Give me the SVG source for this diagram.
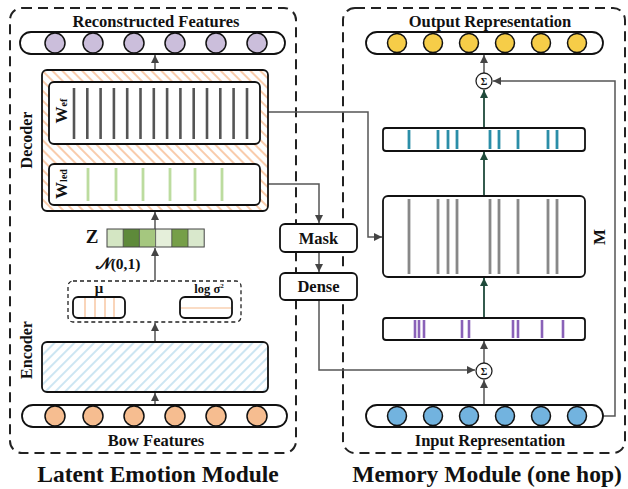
<svg xmlns="http://www.w3.org/2000/svg" width="628" height="489" viewBox="0 0 628 489">
<style>
text{font-family:"Liberation Serif","Times New Roman",serif;font-weight:bold;fill:#111}
.title{font-size:16.5px;text-anchor:middle}
.big{font-size:23.5px;text-anchor:middle}
.dash{fill:none;stroke:#222;stroke-width:2;stroke-dasharray:10 6}
.pill{fill:#fff;stroke:#111;stroke-width:1.8}
.box{fill:#fff;stroke:#111;stroke-width:1.8}
.con{fill:none;stroke:#555;stroke-width:1.5}
.grn{fill:none;stroke:#1f4a3a;stroke-width:1.8}
.gbar{stroke:#555;stroke-width:2.6}
.lbar{stroke:#bcdc9f;stroke-width:2.8}
.mbar{stroke:#888;stroke-width:2.8}
.tbar{stroke:#2b8ea8;stroke-width:2.8}
.pbar{stroke:#8a62b8;stroke-width:2.6}
.obar{stroke:#f6b98c;stroke-width:1.2}
.cP{fill:#cbbedb;stroke:#111;stroke-width:1.5}
.cO{fill:#f6bd90;stroke:#111;stroke-width:1.5}
.cY{fill:#f6cd48;stroke:#111;stroke-width:1.5}
.cB{fill:#72b3df;stroke:#111;stroke-width:1.5}
.sig{fill:#fff;stroke:#222;stroke-width:1.3}
</style>
<defs>
<marker id="ah" markerUnits="userSpaceOnUse" markerWidth="10" markerHeight="10" refX="8" refY="4" orient="auto"><path d="M0,0 L8,4 L0,8 z" fill="#444"/></marker>
<marker id="ag" markerUnits="userSpaceOnUse" markerWidth="10" markerHeight="10" refX="8" refY="4" orient="auto"><path d="M0,0 L8,4 L0,8 z" fill="#1f4a3a"/></marker>
<pattern id="hatchO" patternUnits="userSpaceOnUse" width="7" height="7" patternTransform="rotate(-45)"><rect width="7" height="7" fill="#fff"/><line x1="1" y1="0" x2="1" y2="7" stroke="#f6b17f" stroke-width="1.3"/></pattern>
<pattern id="hatchB" patternUnits="userSpaceOnUse" width="7" height="7" patternTransform="rotate(45)"><rect width="7" height="7" fill="#fff"/><line x1="1" y1="0" x2="1" y2="7" stroke="#abd5ea" stroke-width="1.2"/></pattern>
</defs>

<g id="latent-module">
<rect class="dash" x="10" y="8" width="286" height="445" rx="12"/>
<text class="big" x="158" y="482">Latent Emotion Module</text>
</g>
<g id="memory-module">
<rect class="dash" x="343" y="8" width="282" height="445" rx="12"/>
<text class="big" x="487" y="482">Memory Module (one hop)</text>
</g>

<g id="connectors">
<path class="con" d="M155,405 V393" marker-end="url(#ah)"/>
<path class="con" d="M155,342 V323" marker-end="url(#ah)"/>
<path class="con" d="M155,281 V248" marker-end="url(#ah)"/>
<path class="con" d="M155,229 V212" marker-end="url(#ah)"/>
<path class="con" d="M155,163 V145" marker-end="url(#ah)"/>
<path class="con" d="M155,70 V55" marker-end="url(#ah)"/>
<path class="con" d="M260,112 H368 V237 H382" marker-end="url(#ah)"/>
<path class="con" d="M260,184 H319 V223" marker-end="url(#ah)"/>
<path class="con" d="M319,252 V272" marker-end="url(#ah)"/>
<path class="con" d="M319,300 V370 H475" marker-end="url(#ah)"/>
<path class="con" d="M484,405 V380" marker-end="url(#ah)"/>
<path class="con" d="M484,363 V341" marker-end="url(#ah)"/>
<path class="grn" d="M484,318 V278" marker-end="url(#ag)"/>
<path class="grn" d="M484,196 V152" marker-end="url(#ag)"/>
<path class="grn" d="M484,128 V90" marker-end="url(#ag)"/>
<path class="con" d="M484,73 V55" marker-end="url(#ah)"/>
<path class="con" d="M603,416 H615 V81 H493" marker-end="url(#ah)"/>
</g>

<g id="reconstructed-features">
<text class="title" x="156" y="27">Reconstructed Features</text>
<rect class="pill" x="20" y="32" width="265" height="22" rx="11"/>
<circle class="cP" cx="55" cy="43" r="10"/><circle class="cP" cx="93" cy="43" r="10"/><circle class="cP" cx="134" cy="43" r="10"/><circle class="cP" cx="175" cy="43" r="10"/><circle class="cP" cx="216" cy="43" r="10"/><circle class="cP" cx="257" cy="43" r="10"/>
</g>

<g id="decoder">
<rect x="42" y="70" width="226" height="141" rx="5" fill="url(#hatchO)" stroke="#111" stroke-width="1.8"/>
<text x="28" y="140" font-size="16" text-anchor="middle" transform="rotate(-90 28 140)" dominant-baseline="middle">Decoder</text>
</g>

<g id="w-ef">
<rect class="box" x="49" y="82" width="211" height="62" rx="5"/>
<g class="gbar">
<line x1="74" y1="88" x2="74" y2="139"/><line x1="87.3" y1="88" x2="87.3" y2="139"/><line x1="100.6" y1="88" x2="100.6" y2="139"/><line x1="113.9" y1="88" x2="113.9" y2="139"/><line x1="127.2" y1="88" x2="127.2" y2="139"/><line x1="140.5" y1="88" x2="140.5" y2="139"/><line x1="153.8" y1="88" x2="153.8" y2="139"/><line x1="167.1" y1="88" x2="167.1" y2="139"/><line x1="180.4" y1="88" x2="180.4" y2="139"/><line x1="193.7" y1="88" x2="193.7" y2="139"/><line x1="207" y1="88" x2="207" y2="139"/><line x1="220.3" y1="88" x2="220.3" y2="139"/><line x1="233.6" y1="88" x2="233.6" y2="139"/><line x1="247" y1="88" x2="247" y2="139"/>
</g>
<text x="67" y="111" font-size="17" text-anchor="middle" transform="rotate(-90 67 111)">W<tspan font-size="10">ef</tspan></text>
</g>

<g id="w-led">
<rect class="box" x="49" y="164" width="211" height="41" rx="5"/>
<g class="lbar">
<line x1="88" y1="168" x2="88" y2="201"/><line x1="116" y1="168" x2="116" y2="201"/><line x1="143" y1="168" x2="143" y2="201"/><line x1="170" y1="168" x2="170" y2="201"/><line x1="195" y1="168" x2="195" y2="201"/><line x1="222" y1="168" x2="222" y2="201"/>
</g>
<text x="67" y="184" font-size="17" text-anchor="middle" transform="rotate(-90 67 184)">W<tspan font-size="10">led</tspan></text>
</g>

<g id="z">
<text x="92" y="243" font-size="19" text-anchor="middle">Z</text>
<rect x="107" y="229" width="16.2" height="18" fill="#d4e6c3"/>
<rect x="123.2" y="229" width="16.2" height="18" fill="#5e8a3a"/>
<rect x="139.4" y="229" width="16.2" height="18" fill="#a5c77f"/>
<rect x="155.6" y="229" width="16.2" height="18" fill="#e5efda"/>
<rect x="171.8" y="229" width="16.2" height="18" fill="#769f48"/>
<rect x="188" y="229" width="16.2" height="18" fill="#d9e8cc"/>
<rect x="107" y="229" width="97.2" height="18" fill="none" stroke="#444" stroke-width="1"/>
<path d="M123.2,229V247M139.4,229V247M155.6,229V247M171.8,229V247M188,229V247" stroke="#444" stroke-width="0.8"/>
<text x="118" y="269" font-size="15.5" text-anchor="middle">𝒩(0,1)</text>
</g>

<g id="latent-params">
<rect x="68" y="281" width="173" height="41" rx="5" fill="none" stroke="#222" stroke-width="1.3" stroke-dasharray="4 3"/>
<text x="99" y="293" font-size="15" text-anchor="middle">μ</text>
<rect class="box" x="73" y="297" width="52" height="21" rx="5" stroke-width="1.6"/>
<g class="obar"><line x1="85" y1="298" x2="85" y2="317"/><line x1="95" y1="298" x2="95" y2="317"/><line x1="105" y1="298" x2="105" y2="317"/><line x1="114" y1="298" x2="114" y2="317"/></g>
<text x="209" y="293" font-size="12.5" text-anchor="middle">log σ<tspan font-size="7" dy="-5">2</tspan></text>
<rect class="box" x="180" y="297" width="52" height="21" rx="5" stroke-width="1.6"/>
<line class="obar" x1="181" y1="308" x2="231" y2="308"/>
</g>

<g id="encoder">
<rect x="42" y="342" width="226" height="50" rx="5" fill="url(#hatchB)" stroke="#111" stroke-width="1.8"/>
<text x="28" y="350" font-size="16" text-anchor="middle" transform="rotate(-90 28 350)" dominant-baseline="middle">Encoder</text>
</g>

<g id="bow-features">
<rect class="pill" x="22" y="405" width="265" height="22" rx="11"/>
<circle class="cO" cx="55" cy="416" r="10"/><circle class="cO" cx="93" cy="416" r="10"/><circle class="cO" cx="134" cy="416" r="10"/><circle class="cO" cx="175" cy="416" r="10"/><circle class="cO" cx="216" cy="416" r="10"/><circle class="cO" cx="257" cy="416" r="10"/>
<text class="title" x="156" y="446">Bow Features</text>
</g>

<g id="mask">
<rect class="box" x="280" y="224" width="77" height="28" rx="5"/>
<text x="318.5" y="244" font-size="16.5" text-anchor="middle">Mask</text>
</g>
<g id="dense">
<rect class="box" x="280" y="273" width="77" height="27" rx="5"/>
<text x="318.5" y="292" font-size="16.5" text-anchor="middle">Dense</text>
</g>

<g id="output-representation">
<text class="title" x="490" y="27">Output Representation</text>
<rect class="pill" x="366" y="32" width="237" height="22" rx="11"/>
<circle class="cY" cx="397" cy="43" r="9.5"/><circle class="cY" cx="433" cy="43" r="9.5"/><circle class="cY" cx="469" cy="43" r="9.5"/><circle class="cY" cx="505" cy="43" r="9.5"/><circle class="cY" cx="541" cy="43" r="9.5"/><circle class="cY" cx="577" cy="43" r="9.5"/>
</g>

<g id="sum-top">
<circle class="sig" cx="484" cy="81" r="8"/>
<text x="484" y="85" font-size="10" font-weight="normal" text-anchor="middle">Σ</text>
</g>

<g id="teal-vector">
<rect class="box" x="383" y="128" width="202" height="23" rx="3"/>
<g class="tbar"><line x1="409" y1="130" x2="409" y2="149"/><line x1="438" y1="130" x2="438" y2="149"/><line x1="448" y1="130" x2="448" y2="149"/><line x1="457" y1="130" x2="457" y2="149"/><line x1="490" y1="130" x2="490" y2="149"/><line x1="499" y1="130" x2="499" y2="149"/><line x1="518" y1="130" x2="518" y2="149"/><line x1="548" y1="130" x2="548" y2="149"/><line x1="557" y1="130" x2="557" y2="149"/></g>
</g>

<g id="memory-m">
<rect class="box" x="383" y="196" width="202" height="81" rx="5"/>
<g class="mbar"><line x1="409" y1="199" x2="409" y2="274"/><line x1="438" y1="199" x2="438" y2="274"/><line x1="448" y1="199" x2="448" y2="274"/><line x1="457" y1="199" x2="457" y2="274"/><line x1="490" y1="199" x2="490" y2="274"/><line x1="499" y1="199" x2="499" y2="274"/><line x1="518" y1="199" x2="518" y2="274"/><line x1="548" y1="199" x2="548" y2="274"/><line x1="557" y1="199" x2="557" y2="274"/></g>
<text x="605" y="237" font-size="17" text-anchor="middle" transform="rotate(-90 605 237)">M</text>
</g>

<g id="purple-vector">
<rect class="box" x="383" y="318" width="202" height="22" rx="3"/>
<g class="pbar"><line x1="415" y1="320" x2="415" y2="338"/><line x1="419" y1="320" x2="419" y2="338"/><line x1="424" y1="320" x2="424" y2="338"/><line x1="462" y1="320" x2="462" y2="338"/><line x1="469" y1="320" x2="469" y2="338"/><line x1="513" y1="320" x2="513" y2="338"/><line x1="518" y1="320" x2="518" y2="338"/><line x1="542" y1="320" x2="542" y2="338"/><line x1="563" y1="320" x2="563" y2="338"/></g>
</g>

<g id="sum-bottom">
<circle class="sig" cx="484" cy="371" r="8"/>
<text x="484" y="375" font-size="10" font-weight="normal" text-anchor="middle">Σ</text>
</g>

<g id="input-representation">
<rect class="pill" x="366" y="405" width="237" height="22" rx="11"/>
<circle class="cB" cx="397" cy="416" r="9.5"/><circle class="cB" cx="433" cy="416" r="9.5"/><circle class="cB" cx="469" cy="416" r="9.5"/><circle class="cB" cx="505" cy="416" r="9.5"/><circle class="cB" cx="541" cy="416" r="9.5"/><circle class="cB" cx="577" cy="416" r="9.5"/>
<text class="title" x="490" y="446">Input Representation</text>
</g>
</svg>
